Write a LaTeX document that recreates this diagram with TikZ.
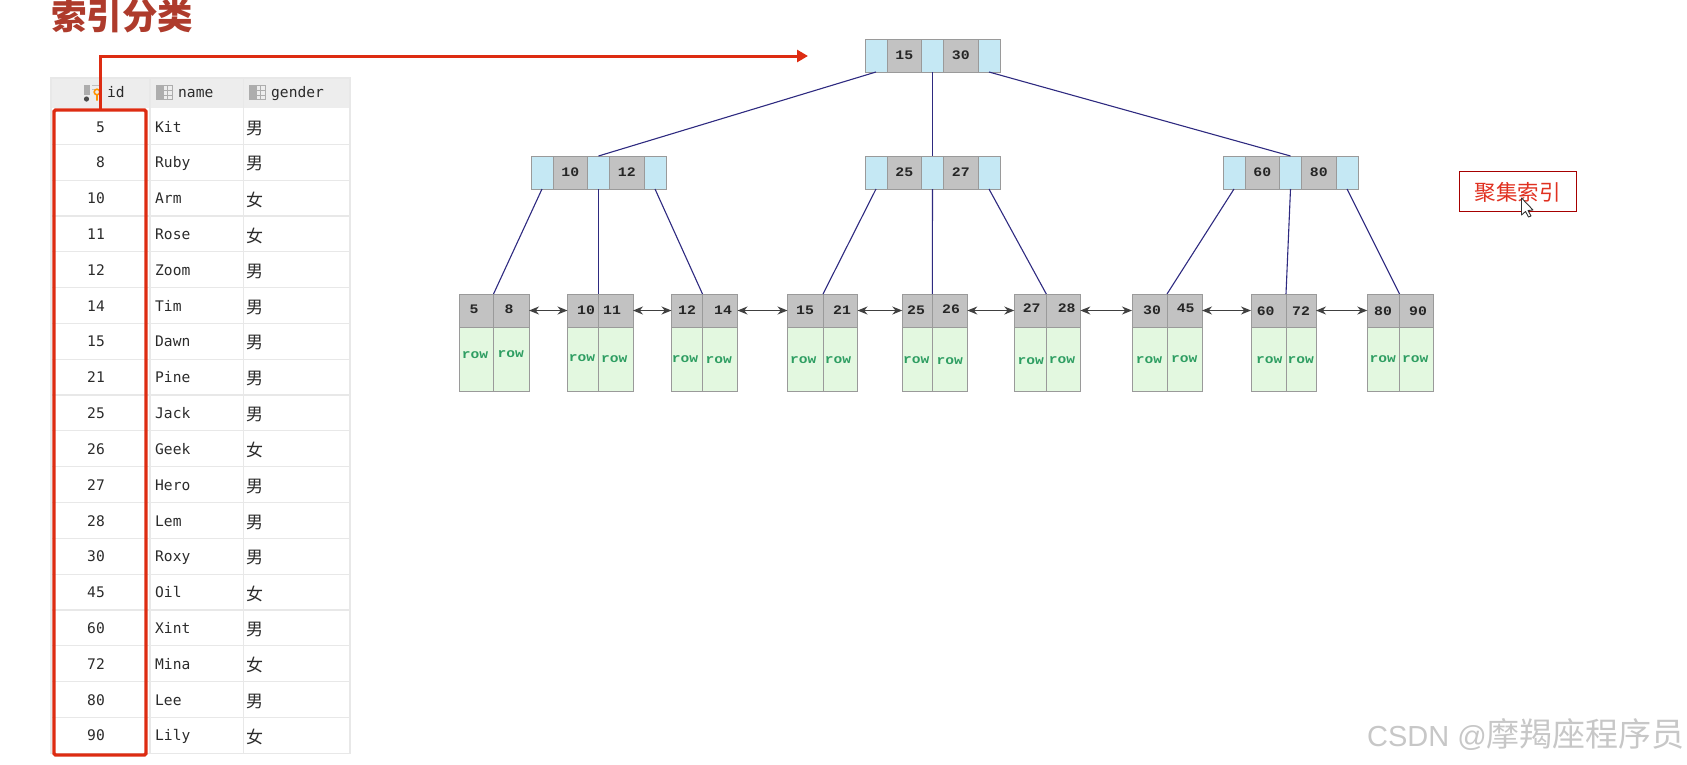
\documentclass[tikz,border=0pt]{standalone}
\usepackage{fontspec}
\usepackage{xcolor}
\usetikzlibrary{arrows.meta, positioning}
\newfontfamily\cjk{Noto Sans CJK SC}
\newfontfamily\tablemono{DejaVu Sans Mono}
\newfontfamily\keymono[FakeStretch=1.14]{Liberation Mono}
\newfontfamily\wmark{Liberation Sans}
\definecolor{ptrblue}{HTML}{C5E8F4}
\definecolor{keygray}{HTML}{C2C2C2}
\definecolor{rowgreen}{HTML}{E3F8E0}
\definecolor{rowtext}{HTML}{2E9E62}
\definecolor{edgegray}{HTML}{9A9A9A}
\definecolor{treeline}{HTML}{2E2A80}
\definecolor{markred}{HTML}{DD2C12}
\definecolor{rulegray}{HTML}{E8E8E8}
\definecolor{tabletext}{HTML}{2B2B2B}
\definecolor{titlered}{HTML}{AE3B2C}
\definecolor{captionred}{HTML}{E03020}
\tikzset{
  cell/.style={draw=edgegray, line width=1pt, inner sep=0pt, outer sep=0pt, anchor=north west},
  ptrcell/.style={cell, fill=ptrblue, minimum height=33pt},
  keycell/.style={cell, fill=keygray, minimum height=33pt},
  rowcell/.style={cell, fill=rowgreen, minimum height=64pt},
  keytext/.style={inner sep=0pt, text=black!85, font=\keymono\bfseries\fontsize{13}{16}\selectfont},
  rowlabel/.style={inner sep=0pt, text=rowtext, font=\keymono\bfseries\fontsize{12.8}{16}\selectfont},
  treeedge/.style={draw=treeline, line width=1.1pt},
  linkedge/.style={{Stealth[length=10pt,width=8pt]}-{Stealth[length=10pt,width=8pt]}, draw=black!75, line width=1.2pt},
  tabletxt/.style={inner sep=0pt, text=tabletext, text height=11pt, text depth=3pt, font=\tablemono\fontsize{14.6}{16}\selectfont},
  sextxt/.style={inner sep=0pt, anchor=west, text=tabletext, font=\cjk\fontsize{17}{19}\selectfont},
  tablerule/.style={draw=rulegray, line width=1.2pt},
  icongray/.style={fill=black!32, draw=none}
}
\begin{document}
\begin{tikzpicture}[x=1pt, y=-1pt, >=Stealth]
\useasboundingbox (0,0) rectangle (1687,764);

\node[anchor=west, inner sep=0pt, text=titlered, font=\cjk\bfseries\fontsize{35.5}{38}\selectfont] (title) at (51,16.5) {索引分类};

% table
\fill[black!7] (51,78) rectangle (350,108);
\foreach \col/\title/\tx in {name/name/178, gender/gender/271} {
  \node[tabletxt, anchor=west] (head-\col) at (\tx,93) {\title};
}
\node[tabletxt, anchor=west] (head-id) at (107,93) {id};
\foreach \x in {156,249} {
  \fill[icongray] (\x,85) rectangle (\x+6.5,100);
  \draw[black!32, line width=1pt] (\x+7,85.5) rectangle (\x+16,99.5);
  \draw[black!32, line width=1pt] (\x+7,90.5) -- (\x+16,90.5) (\x+7,95) -- (\x+16,95) (\x+11.5,85.5) -- (\x+11.5,99.5);
}
\fill[icongray] (84,85) rectangle (90,95);
\fill[black!70] (86.5,99) circle (2.6pt);
\draw[black!25, line width=1pt] (92,85.5) -- (102,85.5) (92,89) -- (97,89);
\draw[orange!85!yellow, line width=1.6pt] (97,92) circle (2.8pt) (97,95) -- (97,100.5);

\foreach \id/\uname/\sex [count=\r] in {5/Kit/男, 8/Ruby/男, 10/Arm/女, 11/Rose/女, 12/Zoom/男, 14/Tim/男, 15/Dawn/男, 21/Pine/男, 25/Jack/男, 26/Geek/女, 27/Hero/男, 28/Lem/男, 30/Roxy/男, 45/Oil/女, 60/Xint/男, 72/Mina/女, 80/Lee/男, 90/Lily/女} {
  \pgfmathsetmacro{\ty}{108.5+35.82*(\r-0.5)+1.6}
  \pgfmathsetmacro{\ly}{108.5+35.82*\r}
  \node[tabletxt, anchor=east] (id-\r) at (105,\ty) {\id};
  \node[tabletxt, anchor=west] (name-\r) at (155,\ty) {\uname};
  \node[sextxt] (sex-\r) at (246,\ty) {\sex};
  \draw[tablerule] (51,\ly) -- (350,\ly);
}
\draw[tablerule] (51,78) rectangle (350,753.3);
\draw[tablerule] (150,78) -- (150,753.3);
\draw[tablerule] (243.5,78) -- (243.5,753.3);

% red frame and its arrow
\node[draw=markred, line width=3.3pt, rounded corners=1.5pt, inner sep=0pt, outer sep=0pt, minimum width=92pt, minimum height=645pt] (idframe) at (100,432.5) {};
\coordinate (arrowtip) at (808,56);
\draw[-{Stealth[inset=0pt,length=11pt,width=12pt]}, draw=markred, line width=3pt] (idframe.north) |- (arrowtip);

% inner nodes
\foreach \n/\x/\y/\ka/\kb in {root/865/39/15/30, inA/531/156/10/12, inB/865/156/25/27, inC/1223/156/60/80} {
  \node[ptrcell, minimum width=22pt] (\n-p1) at (\x,\y) {};
  \node[keycell, minimum width=34.5pt, font=\keymono\bfseries\fontsize{13}{16}\selectfont, text=black!85] (\n-k1) at (\x+22,\y) {\ka};
  \node[ptrcell, minimum width=22pt] (\n-p2) at (\x+56.5,\y) {};
  \node[keycell, minimum width=34.5pt, font=\keymono\bfseries\fontsize{13}{16}\selectfont, text=black!85] (\n-k2) at (\x+78.5,\y) {\kb};
  \node[ptrcell, minimum width=22pt] (\n-p3) at (\x+113,\y) {};
}

% leaves
\foreach \n/\xa/\xb/\xc/\ka/\kb/\ta/\tb/\kya/\kyb/\ra/\rb/\rya/\ryb in {
  1/459/493.5/529/5/8/474/509/309/309/475/510.7/355.5/354.5,
  2/567.5/598.5/633/10/11/586/612/310/310/582/614.3/358.5/359.5,
  3/671.5/702.5/737.5/12/14/687/723/310/310/685/718.7/359.5/360,
  4/787.5/823/857.5/15/21/805/842/310/310/803.3/838/360.5/360.5,
  5/902.3/932.3/967.3/25/26/916/951/310/309/916.3/949.7/360/361,
  6/1014.3/1046.3/1080.3/27/28/1031.7/1066.7/308.5/308.5/1030.7/1062/361/360,
  7/1132/1167/1202/30/45/1152/1185.7/310/308.5/1149/1184.3/360/359,
  8/1251/1286/1316/60/72/1265.7/1301/311/311/1269.3/1300.7/360/360,
  9/1367.3/1399.5/1433.7/80/90/1383/1418/311/311/1382.7/1415.3/359/359} {
  \pgfmathsetmacro{\wa}{\xb-\xa}
  \pgfmathsetmacro{\wb}{\xc-\xb}
  \node[keycell, minimum width=\wa pt] (leaf\n-k1) at (\xa,294) {};
  \node[keycell, minimum width=\wb pt] (leaf\n-k2) at (\xb,294) {};
  \node[rowcell, minimum width=\wa pt] (leaf\n-r1) at (\xa,327) {};
  \node[rowcell, minimum width=\wb pt] (leaf\n-r2) at (\xb,327) {};
  \node[keytext] (leaf\n-t1) at (\ta,\kya) {\ka};
  \node[keytext] (leaf\n-t2) at (\tb,\kyb) {\kb};
  \node[rowlabel] (leaf\n-w1) at (\ra,\rya) {row};
  \node[rowlabel] (leaf\n-w2) at (\rb,\ryb) {row};
}

% tree edges
\foreach \p/\c in {p1/inA, p2/inB, p3/inC} {
  \draw[treeedge] (root-\p.south) -- (\c-p2.north);
}
\foreach \c/\la/\lb/\lc in {inA/1/2/3, inB/4/5/6, inC/7/8/9} {
  \draw[treeedge] (\c-p1.south) -- (leaf\la-k1.north east);
  \draw[treeedge] (\c-p2.south) -- (leaf\lb-k1.north east);
  \draw[treeedge] (\c-p3.south) -- (leaf\lc-k1.north east);
}

% leaf links
\foreach \a/\b in {1/2, 2/3, 3/4, 4/5, 5/6, 6/7, 7/8, 8/9} {
  \draw[linkedge] (leaf\a-k2.east) -- (leaf\b-k1.west);
}

% caption box and pointer
\node[draw=red!65!black, line width=1pt, inner sep=0pt, minimum width=117pt, minimum height=40pt, text=captionred, text height=20pt, text depth=0.4pt, font=\cjk\fontsize{21.5}{24}\selectfont] (caption) at (1517.5,191) {聚集索引};
\draw[fill=white, draw=black!80, line width=0.9pt, line join=round] (1521.5,198) -- (1521.5,215) -- (1525.5,211.5) -- (1528.5,217) -- (1531,216) -- (1528,210.5) -- (1533,210) -- cycle;

% watermark
\node[anchor=west, inner sep=0pt, text=black!22] (wmark) at (1367,734.5) {\wmark\fontsize{29}{32}\selectfont CSDN @\cjk\fontsize{33}{35}\selectfont 摩羯座程序员};

\end{tikzpicture}
\end{document}
